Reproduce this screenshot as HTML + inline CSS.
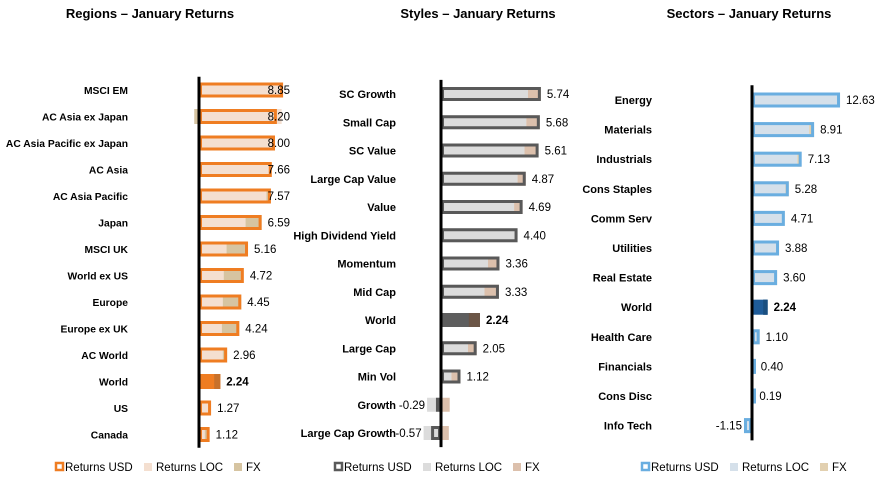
<!DOCTYPE html><html><head><meta charset="utf-8"><style>body{margin:0;background:#fff}svg{display:block}text{font-family:"Liberation Sans",sans-serif}</style></head><body>
<svg id="s" width="888" height="485" xmlns="http://www.w3.org/2000/svg">
<text x="150" y="18" font-size="13" font-weight="bold" text-anchor="middle">Regions – January Returns</text>
<text x="478" y="18" font-size="13" font-weight="bold" text-anchor="middle">Styles – January Returns</text>
<text x="749" y="18" font-size="13" font-weight="bold" text-anchor="middle">Sectors – January Returns</text>
</svg>
<script>
const S=document.getElementById('s');let h='';
function chart(c){
 const n=c.rows.length;
 c.rows.forEach((r,i)=>{
  const [name,val,loc,fx]=r;const y=c.y0+i*c.dy;const bh=c.bh||14;const yt=y-bh/2;
  const X=v=>c.ax+v*c.k;
  h+=`<text x="${c.lx}" y="${y+4}" font-size="${c.fs||11}" font-weight="bold" text-anchor="end">${name}</text>`;
  const w=name=='World';
  h+=`<rect x="${Math.min(X(0),X(loc))}" y="${yt}" width="${Math.abs(loc*c.k)}" height="${bh}" fill="${c.loc}"/>`;
  if(fx){let a=(fx<0||loc<0)?0:loc;let b=a+fx;h+=`<rect x="${Math.min(X(a),X(b))}" y="${yt}" width="${Math.abs(fx*c.k)}" height="${bh}" fill="${w?c.wfx:c.fx}"/>`;}
  if(w){h+=`<rect x="${X(0)}" y="${yt}" width="${val*c.k}" height="${bh}" fill="${c.wf}"/>`;
   h+=`<rect x="${X(loc)}" y="${yt}" width="${fx*c.k}" height="${bh}" fill="${c.wfx}"/>`;}
  else h+=`<rect x="${Math.min(X(0),X(val))+1.5}" y="${yt+1.5}" width="${Math.max(Math.abs(val*c.k)-3,1)}" height="${bh-3}" fill="none" stroke="${c.o}" stroke-width="3"/>`;
  let tx,anc='start';
  if(val<0){tx=Math.min(X(val),X(loc))-2;anc='end';}
  else{tx=Math.max(X(val),X(loc+Math.max(fx,0)))+6; if(c.cap&&tx>c.cap-30){tx=c.cap;anc='end';}}
  h+=`<text x="${tx}" y="${y+4}" font-size="11.5" ${w?'font-weight="bold"':''} text-anchor="${anc}">${val.toFixed(2)}</text>`;
 });
 h+=`<line x1="${c.ax}" y1="${c.y0-c.dy/2}" x2="${c.ax}" y2="${c.y0+(n-0.5)*c.dy}" stroke="#000" stroke-width="3"/>`;
 const L=c.lg;
 h+=`<rect x="${L}" y="463" width="7" height="7" fill="#fff" stroke="${c.o}" stroke-width="2.5"/><text x="${L+9}" y="471" font-size="11.5">Returns USD</text>`;
 h+=`<rect x="${L+88}" y="463" width="8" height="8" fill="${c.loc}"/><text x="${L+100}" y="471" font-size="11.5">Returns LOC</text>`;
 h+=`<rect x="${L+178}" y="463" width="8" height="8" fill="${c.fx}"/><text x="${L+190}" y="471" font-size="11.5">FX</text>`;
}
chart({ax:199,k:9.5,y0:90,dy:26.5,lx:128,fs:10.3,bh:15,cap:290,o:'#ef7d22',loc:'#f4dfd0',fx:'#d6c4a1',wf:'#ef7d22',wfx:'#c8712a',lg:56,
rows:[['MSCI EM',8.85,8.85,0],['AC Asia ex Japan',8.20,8.7,-0.5],['AC Asia Pacific ex Japan',8.00,7.9,0.1],['AC Asia',7.66,7.5,0.15],['AC Asia Pacific',7.57,7.1,0.45],['Japan',6.59,4.9,1.7],['MSCI UK',5.16,2.9,2.26],['World ex US',4.72,2.6,2.0],['Europe',4.45,2.5,1.95],['Europe ex UK',4.24,2.4,1.84],['AC World',2.96,2.5,0.46],['World',2.24,1.6,0.64],['US',1.27,1.27,0],['Canada',1.12,0.6,0.5]]});
chart({ax:441,k:17.4,y0:94,dy:28.25,lx:396,o:'#595959',loc:'#dcdcdc',fx:'#dcc0ac',wf:'#5e5e5e',wfx:'#6b5546',lg:335,
rows:[['SC Growth',5.74,5.0,0.74],['Small Cap',5.68,4.9,0.78],['SC Value',5.61,4.8,0.8],['Large Cap Value',4.87,4.4,0.47],['Value',4.69,4.2,0.49],['High Dividend Yield',4.40,4.4,0],['Momentum',3.36,2.7,0.66],['Mid Cap',3.33,2.5,0.83],['World',2.24,1.6,0.64],['Large Cap',2.05,1.55,0.5],['Min Vol',1.12,0.6,0.52],['Growth',-0.29,-0.8,0.5],['Large Cap Growth',-0.57,-1.0,0.45]]});
chart({ax:752,k:6.97,y0:100,dy:29.6,lx:652,bh:15,o:'#6aaee0',loc:'#d5e0ea',fx:'#e2d0b0',wf:'#1f5c99',wfx:'#1a4f80',lg:642,
rows:[['Energy',12.63,12.4,0.23],['Materials',8.91,8.2,0.7],['Industrials',7.13,6.5,0.6],['Cons Staples',5.28,4.8,0.48],['Comm Serv',4.71,4.71,0],['Utilities',3.88,3.6,0.28],['Real Estate',3.60,3.3,0.3],['World',2.24,1.6,0.64],['Health Care',1.10,1.0,0.1],['Financials',0.40,0.4,0],['Cons Disc',0.19,0.19,0],['Info Tech',-1.15,-1.15,0]]});
S.insertAdjacentHTML('beforeend',h);
</script></body></html>
